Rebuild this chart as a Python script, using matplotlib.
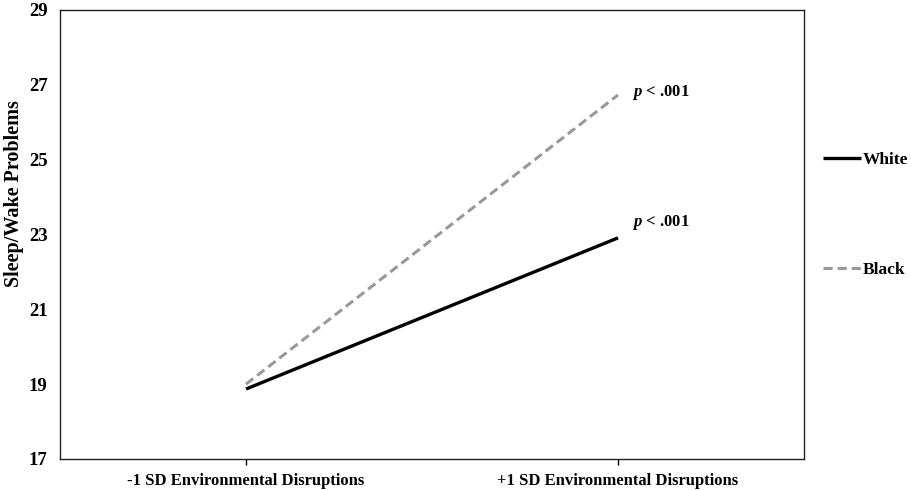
import matplotlib.pyplot as plt

plt.rcParams['font.family'] = ['Liberation Serif', 'DejaVu Serif']
plt.rcParams['font.weight'] = 'bold'
plt.rcParams['mathtext.fontset'] = 'custom'
plt.rcParams['mathtext.bfit'] = 'Liberation Serif:italic:bold'
plt.rcParams['mathtext.it'] = 'Liberation Serif:italic:bold'

categories = ['-1 SD Environmental Disruptions', '+1 SD Environmental Disruptions']
white = [18.87, 22.91]
black = [19.0, 26.73]
p_label = r'$\mathbfit{p}$ < .001'

fig = plt.figure(figsize=(9.11, 4.90), dpi=100)
ax = fig.add_axes([0.0659, 0.0633, 0.8167, 0.9163])

x = [0, 1]
ax.plot(x, white, color='black', lw=2.4, label='White', solid_capstyle='butt')
ax.plot(x, black, color='#999999', lw=2.2, ls=(0, (3, 1.6)), label='Black')

ax.set_xlim(-0.5, 1.5)
ax.set_ylim(17, 29)
ax.set_yticks(range(17, 30, 2))
ax.set_xticks(x)
ax.set_xticklabels(categories)
ax.tick_params(axis='y', length=0, pad=9, labelsize=13.5)
ax.tick_params(axis='x', length=4, width=1, direction='out', pad=6, labelsize=12)
ax.set_ylabel('Sleep/Wake Problems', fontsize=14.5, fontweight='bold')
ax.yaxis.set_label_coords(-0.0485, 0.592)
for s in ax.spines.values():
    s.set_linewidth(1.0)
    s.set_color('#222222')

# p-value annotations, above the right end of each line
for yv, dy in ((black[1], 2), (white[1], 11)):
    ax.annotate(p_label, xy=(1, yv), xytext=(10, dy),
                textcoords='offset points', fontsize=12, va='center', ha='left')

leg = ax.legend(loc='center left', bbox_to_anchor=(1.004, 0.543), frameon=False,
                handlelength=2.2, handletextpad=0.1, labelspacing=5.4, fontsize=12.5)

fig.savefig('out.png', dpi=100)
